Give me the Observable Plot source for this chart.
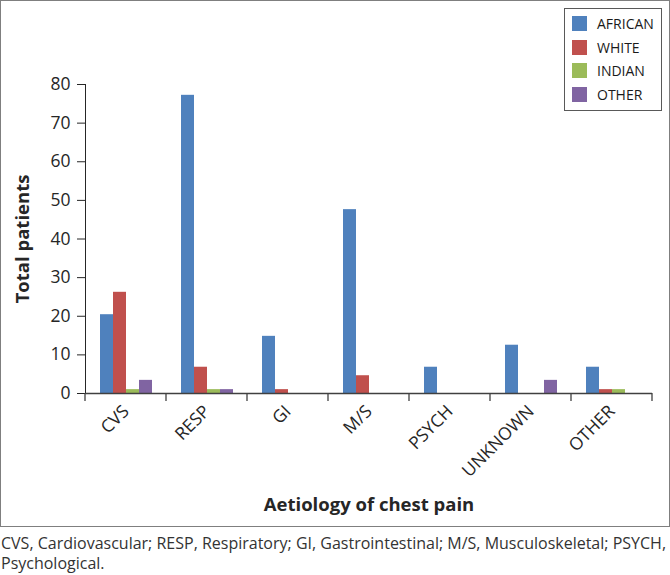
<!DOCTYPE html>
<html><head><meta charset="utf-8">
<script src="https://cdn.jsdelivr.net/npm/d3@7"></script>
<script src="https://cdn.jsdelivr.net/npm/@observablehq/plot@0.6"></script>
<style>
html,body{margin:0;padding:0;background:#fff;}
body{font-family:"Open Sans",sans-serif;color:#1a1a1a;width:670px;}
#wrap{position:relative;width:668px;height:525px;border:1px solid #7f7f7f;}
#chart svg{display:block;}
#chart [aria-label="y-axis label"], #chart [aria-label="y-axis label"] text,
#chart [aria-label="fx-axis label"], #chart [aria-label="fx-axis label"] text{font-weight:bold;font-size:18.5px;}
#legend{position:absolute;left:563px;top:7px;width:98px;height:103px;border:1px solid #595959;box-sizing:border-box;background:#fff;}
.item{position:absolute;left:7px;height:15px;display:flex;align-items:center;font-size:14px;color:#1a1a1a;white-space:nowrap;}
.sw{width:15px;height:15px;margin-right:10px;flex:none;}
#caption{font-size:16px;line-height:20px;margin:6px 0 0 1px;color:#333;white-space:nowrap;}
</style></head>
<body>
<div id="wrap"><div id="chart"></div><div id="legend"></div></div>
<div id="caption">CVS, Cardiovascular; RESP, Respiratory; GI, Gastrointestinal; M/S, Musculoskeletal; PSYCH,<br>Psychological.</div>
<script>
const categories = ["CVS","RESP","GI","M/S","PSYCH","UNKNOWN","OTHER"];
const races = ["AFRICAN","WHITE","INDIAN","OTHER"];
const african = [20.4,77.2,14.8,47.6,6.8,12.5,6.8];
const white   = [26.2,6.8,1,4.6,0,0,1];
const indian  = [1,1,0,0,0,0,1];
const other   = [3.4,1,0,0,0,3.4,0];
const colors = ["#4F81BD","#C0504D","#9BBB59","#8064A2"];
const yTicks = [0,10,20,30,40,50,60,70,80];
const yTitle = "Total patients";
const xTitle = "Aetiology of chest pain";

const series = [african, white, indian, other];
const data = categories.flatMap((c,i)=> races.map((r,j)=>({category:c, race:r, value:series[j][i]})));

const chart = Plot.plot({
  width:668, height:525, marginLeft:84, marginRight:17, marginTop:83, marginBottom:133,
  style:{fontFamily:'"Open Sans",sans-serif', fontSize:"17.5px", color:"#262626", background:"#fff"},
  fx:{domain:categories, padding:0, label:xTitle, labelAnchor:"center", labelArrow:"none", tickSize:0, tickPadding:15, tickRotate:-45, labelOffset:117},
  x:{domain:races, paddingInner:0, paddingOuter:1, axis:null},
  y:{domain:[0,80], ticks:yTicks, tickSize:8, tickPadding:7, line:true, label:yTitle, labelAnchor:"center", labelArrow:"none", labelOffset:70},
  color:{domain:races, range:colors},
  marks:[
    Plot.barY(data,{fx:"category", x:"race", y:"value", fill:"race"}),
    Plot.ruleY([0],{stroke:"#404040", strokeWidth:1.3})
  ]
});
document.getElementById("chart").appendChild(chart);

// boundary ticks between categories, from the fx band scale
const fx = chart.scale("fx"), ys = chart.scale("y");
const y0 = ys.apply(0);
const edges = categories.map(c=>fx.apply(c)).concat([fx.apply(categories[categories.length-1])+fx.bandwidth]);
d3.select(chart).append("g").attr("stroke","#404040").attr("stroke-width",1.3)
  .selectAll("line").data(edges).join("line")
  .attr("x1",d=>d).attr("x2",d=>d).attr("y1",y0).attr("y2",y0+8);

// legend
const lg = d3.select("#legend");
races.forEach((r,i)=>{
  const it = lg.append("div").attr("class","item").style("top",(7+i*23.5)+"px");
  it.append("div").attr("class","sw").style("background",colors[i]);
  it.append("span").text(r);
});
</script>
</body></html>
